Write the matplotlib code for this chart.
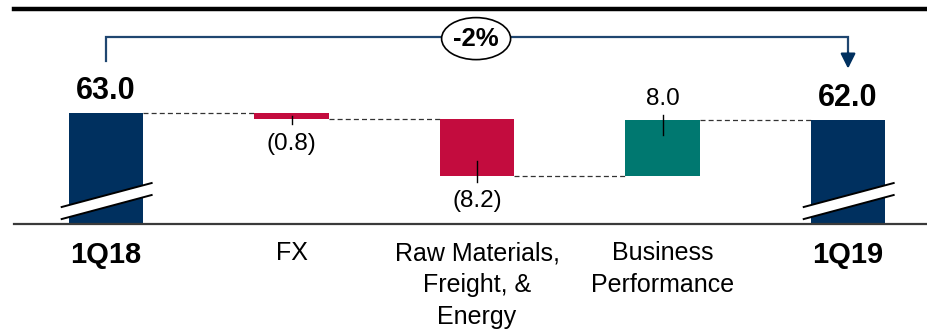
import matplotlib
matplotlib.use("Agg")
import matplotlib.pyplot as plt
from matplotlib.patches import Ellipse, Polygon

plt.rcParams['font.family'] = ['Liberation Sans', 'DejaVu Sans']

categories = ["1Q18", "FX", "Raw Materials,\nFreight, &\nEnergy", "Business\nPerformance", "1Q19"]
start_value = 63.0
deltas = [-0.8, -8.2, 8.0]
end_value = 62.0
delta_labels = ["(0.8)", "(8.2)", "8.0"]
total_labels = ["63.0", "62.0"]
change_label = "-2%"

NAVY = "#00305F"
RED = "#C30C3E"
TEAL = "#007870"
BRACKET = "#1F4670"

fig = plt.figure(figsize=(9.28, 3.29), dpi=100)
W, H = 928, 329
ax = fig.add_axes([14 / W, (H - 224) / H, 914 / W, 215 / H])

ymin, ymax = 47.26, 77.75
ax.set_ylim(ymin, ymax)
ax.set_xlim(-0.496, 4.431)
bw = 0.40

# totals
for i, v in [(0, start_value), (4, end_value)]:
    ax.bar(i, v - ymin, bottom=ymin, width=bw, color=NAVY, zorder=2)

# deltas
level = start_value
levels = [start_value]
for j, d in enumerate(deltas):
    i = j + 1
    lo, hi = (level + d, level) if d < 0 else (level, level + d)
    ax.bar(i, hi - lo, bottom=lo, width=bw, color=RED if d < 0 else TEAL, zorder=2)
    level += d
    levels.append(level)

# dashed connectors
conn = [start_value] + levels[1:]
for i in range(4):
    ax.plot([i + bw / 2, i + 1 - bw / 2], [conn[i], conn[i]], ls=(0, (4, 2.5)),
            color="#333333", lw=0.9, zorder=1)

pxu = 7.05  # px per unit
# leader ticks and labels
level = start_value
for j, d in enumerate(deltas):
    i = j + 1
    new = level + d
    height = abs(d)
    inside = min(15, height * pxu / 2) / pxu
    outside = 5.5 / pxu
    edge = new
    if d < 0:
        ax.plot([i, i], [edge - outside, edge + inside], color="black", lw=1.0, zorder=3)
        ax.annotate(delta_labels[j], (i, edge), xytext=(0, -18.0), textcoords="offset points",
                    ha="center", va="center", fontsize=17.5)
    else:
        ax.plot([i, i], [edge + outside, edge - inside], color="black", lw=1.0, zorder=3)
        ax.annotate(delta_labels[j], (i, edge), xytext=(0, 15.5), textcoords="offset points",
                    ha="center", va="center", fontsize=17.5)
    level = new

# total labels
for i, v, t in [(0, start_value, total_labels[0]), (4, end_value, total_labels[1])]:
    ax.annotate(t, (i, v), xytext=(0, 16.0), textcoords="offset points",
                ha="center", va="center", fontsize=22, fontweight="bold")

# break marks
for i in [0, 4]:
    x0, x1 = i - 0.239, i + 0.246
    ya0, ya1 = 49.67, 53.07
    yb0, yb1 = 47.96, 51.37
    ax.add_patch(Polygon([[x0, ya0], [x1, ya1], [x1, yb1], [x0, yb0]], closed=True,
                         facecolor="white", edgecolor="none", zorder=4, clip_on=False))
    ax.plot([x0, x1], [ya0, ya1], color="black", lw=1.4, zorder=5, clip_on=False)
    ax.plot([x0, x1], [yb0, yb1], color="black", lw=1.4, zorder=5, clip_on=False)

# bracket
yb = 73.78
ax.plot([0, 0, 4, 4], [70.4, yb, yb, 71.4], color=BRACKET, lw=1.6, zorder=3,
        solid_joinstyle="miter", clip_on=False)
ax.annotate("", xy=(4, 69.3), xytext=(4, 71.6),
            arrowprops=dict(arrowstyle="-|>,head_length=0.9,head_width=0.45", color=NAVY, lw=1.6,
                            shrinkA=0, shrinkB=0))
ax.add_patch(Ellipse((1.995, 73.55), width=69 / 185.5, height=42 / pxu, facecolor="white",
                     edgecolor="black", lw=1.2, zorder=6, clip_on=False))
ax.text(1.995, 73.5, change_label, ha="center", va="center", fontsize=18.5, fontweight="bold", zorder=7)

# spines
for s in ["left", "right"]:
    ax.spines[s].set_visible(False)
ax.spines["top"].set_linewidth(3.2)
ax.spines["top"].set_color("black")
ax.spines["bottom"].set_linewidth(1.6)
ax.spines["bottom"].set_color("#3a3a3a")
ax.set_yticks([])
ax.set_xticks([])

# category labels
for i, c in enumerate(categories):
    bold = i in (0, 4)
    ax.annotate(c, (i, 0), xycoords=("data", "axes fraction"), xytext=(0, -12.5),
                textcoords="offset points", ha="center", va="top",
                fontsize=21 if bold else 18, fontweight="bold" if bold else "normal",
                linespacing=1.42, multialignment="center", annotation_clip=False)

fig.savefig("out.png", dpi=100)
